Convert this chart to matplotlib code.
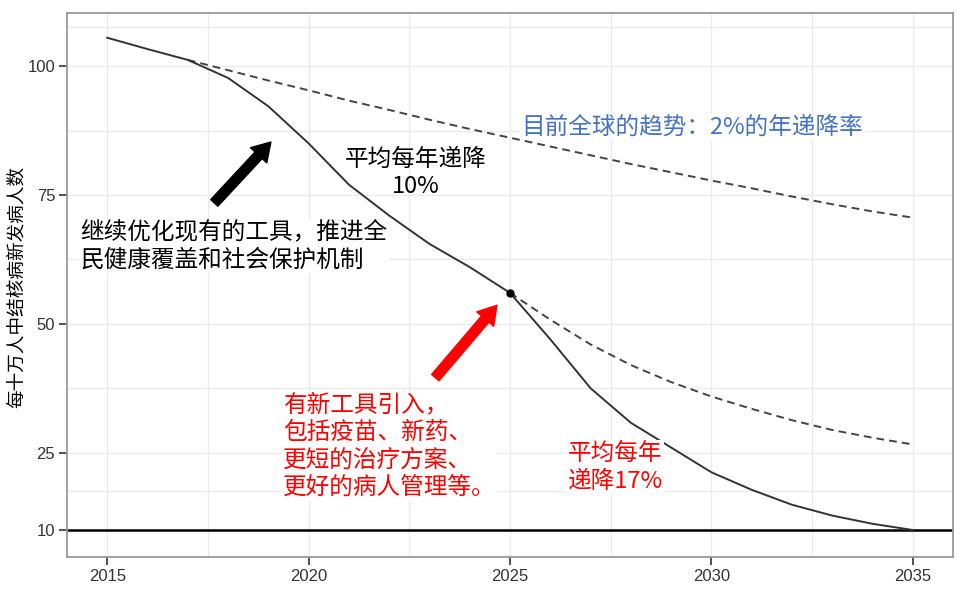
import matplotlib
matplotlib.use("Agg")
import matplotlib.pyplot as plt
from matplotlib.patches import FancyArrowPatch

plt.rcParams['font.family'] = ['Noto Sans CJK SC', 'DejaVu Sans']

# data
years_solid = [2015, 2016, 2017, 2018, 2019, 2020, 2021, 2022, 2023, 2024, 2025,
               2026, 2027, 2028, 2029, 2030, 2031, 2032, 2033, 2034, 2035]
rate_solid = [105.5, 103.3, 101.2, 97.7, 92.2, 85.0, 77.0, 71.0, 65.5, 61.0, 56.0,
              47.0, 37.5, 30.8, 26.0, 21.2, 17.8, 14.9, 12.8, 11.2, 10.0]

years_trend = [2017, 2018, 2019, 2020, 2021, 2022, 2023, 2024, 2025, 2026,
               2027, 2028, 2029, 2030, 2031, 2032, 2033, 2034, 2035]
rate_trend = [101.2, 99.2, 97.2, 95.3, 93.3, 91.5, 89.6, 87.8, 86.1, 84.4,
              82.7, 81.0, 79.4, 77.8, 76.3, 74.7, 73.2, 71.8, 70.6]

years_10pct = [2025, 2026, 2027, 2028, 2029, 2030, 2031, 2032, 2033, 2034, 2035]
rate_10pct = [56.0, 50.8, 46.0, 42.0, 38.7, 35.9, 33.5, 31.3, 29.4, 27.9, 26.6]

target = 10
xticks = [2015, 2020, 2025, 2030, 2035]
yticks = [10, 25, 50, 75, 100]
xminor = [2017.5, 2022.5, 2027.5, 2032.5]
yminor = [17.5, 37.5, 62.5, 87.5, 107.5]

fig = plt.figure(figsize=(9.71, 5.94), dpi=100)
ax = fig.add_axes([0.069, 0.0623, 0.9125, 0.9158])

ax.set_xlim(2014, 2036)
ax.set_ylim(4.76, 110.3)

ax.set_xticks(xticks)
ax.set_yticks(yticks)
ax.set_xticks(xminor, minor=True)
ax.set_yticks(yminor, minor=True)
ax.grid(True, which='both', color='#ebebeb', linewidth=1.0, zorder=0)
ax.tick_params(which='minor', length=0)
ax.tick_params(which='major', length=6, width=1.2, color='#333333',
               labelsize=12, labelcolor='#333333', pad=2.5)
for lab in ax.get_xticklabels() + ax.get_yticklabels():
    lab.set_family('Liberation Sans')
for s in ax.spines.values():
    s.set_color('#9a9a9a')
    s.set_linewidth(1.3)

ax.axhline(target, color='black', linewidth=1.8, zorder=2)
ax.plot(years_trend, rate_trend, color='#444444', linewidth=1.4,
        dashes=(4, 2.6), zorder=3)
ax.plot(years_10pct, rate_10pct, color='#444444', linewidth=1.4,
        dashes=(4, 2.6), zorder=3)
ax.plot(years_solid, rate_solid, color='#333333', linewidth=1.4, zorder=3)
ax.plot([2025], [56.0], 'o', color='black', markersize=5, zorder=4)

box = dict(facecolor='white', edgecolor='none', pad=1)

ax.text(2014.33, 65.0, '继续优化现有的工具，推进全\n民健康覆盖和社会保护机制',
        fontsize=17, color='black', ha='left', va='center',
        linespacing=1.27, bbox=box, zorder=5)
ax.text(2022.65, 79.25, '平均每年递降\n10%', fontsize=17, color='black',
        ha='center', va='center', multialignment='center',
        linespacing=1.2, zorder=5)
ax.text(2025.29, 88.23, '目前全球的趋势：2%的年递降率', fontsize=17,
        color='#4472c4', ha='left', va='center', bbox=box, zorder=5)
ax.text(2019.37, 26.2, '有新工具引入，\n包括疫苗、新药、\n更短的治疗方案、\n更好的病人管理等。',
        fontsize=17, color='#ff0000', ha='left', va='center',
        linespacing=1.25, bbox=box, zorder=5)
ax.text(2026.43, 22.2, '平均每年\n递降17%', fontsize=17, color='#ff0000',
        ha='left', va='center', linespacing=1.28, bbox=box, zorder=5)

arr1 = FancyArrowPatch((2017.61, 73.06), (2019.11, 85.66),
                       arrowstyle='simple,head_width=1.6,head_length=1.3,tail_width=0.7',
                       mutation_scale=10, color='black', zorder=6)
arr2 = FancyArrowPatch((2023.10, 39.15), (2024.72, 54.0),
                       arrowstyle='simple,head_width=1.6,head_length=1.3,tail_width=0.7',
                       mutation_scale=10, color='#ff0000', zorder=6)
ax.add_patch(arr1)
ax.add_patch(arr2)

fig.text(0.0175, 0.517, '每十万人中结核病新发病人数', rotation=90, fontsize=13.4,
         color='black', ha='center', va='center')

fig.savefig('out.png', dpi=100)
